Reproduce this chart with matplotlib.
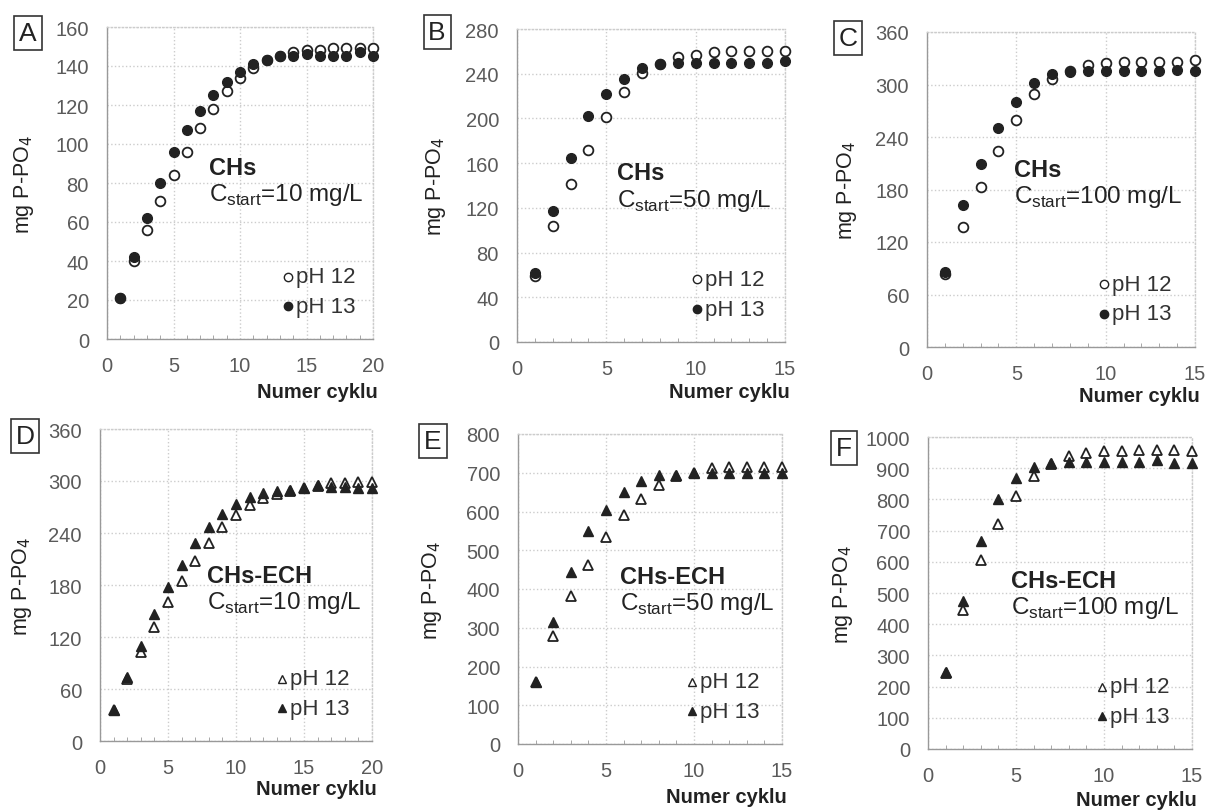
import matplotlib
matplotlib.use("Agg")
import matplotlib.pyplot as plt
import numpy as np

plt.rcParams['font.family'] = ['Liberation Sans', 'DejaVu Sans']

# ---- data ----
cyc20 = list(range(1, 21))
cyc15 = list(range(1, 16))

A_ph12 = [21, 40, 56, 71, 84, 96, 108, 118, 127, 134, 139, 143, 145, 147, 148, 148, 149, 149, 149, 149]
A_ph13 = [21, 42, 62, 80, 96, 107, 117, 125, 132, 137, 141, 143, 145, 145, 146, 145, 145, 145, 147, 145]

B_ph12 = [59, 104, 141, 172, 201, 224, 241, 249, 255, 257, 259, 260, 260, 260, 260]
B_ph13 = [62, 117, 165, 202, 222, 235, 245, 249, 250, 250, 250, 250, 250, 250, 251]

C_ph12 = [84, 137, 183, 224, 260, 289, 306, 316, 322, 325, 326, 326, 326, 326, 328]
C_ph13 = [86, 162, 209, 250, 280, 302, 312, 314, 315, 315, 315, 315, 315, 317, 315]

D_ph12 = [36, 72, 103, 132, 160, 185, 208, 228, 247, 261, 272, 280, 285, 289, 292, 294, 298, 298, 299, 299]
D_ph13 = [36, 74, 110, 147, 178, 203, 228, 247, 262, 274, 281, 286, 288, 290, 292, 295, 293, 293, 292, 292]

E_ph12 = [160, 280, 383, 463, 535, 590, 633, 668, 692, 700, 713, 715, 716, 716, 716]
E_ph13 = [160, 314, 445, 550, 605, 650, 680, 695, 695, 700, 700, 700, 700, 700, 700]

F_ph12 = [245, 445, 605, 722, 810, 875, 915, 940, 950, 955, 955, 958, 958, 958, 955]
F_ph13 = [248, 475, 668, 800, 870, 905, 918, 920, 920, 920, 920, 920, 925, 918, 918]

letters = ['A', 'B', 'C', 'D', 'E', 'F']
materials = ['CHs', 'CHs', 'CHs', 'CHs-ECH', 'CHs-ECH', 'CHs-ECH']
cstart = ['10', '50', '100', '10', '50', '100']
legend_labels = ['pH 12', 'pH 13']

W, H = 1207, 812
fig = plt.figure(figsize=(W / 100, H / 100), dpi=100)

# pixel boxes: left, right, top, bottom
boxes = [(107, 373, 28, 340), (517, 785, 30, 343), (927, 1195, 33, 348),
         (100, 372, 430, 742), (518, 782, 435, 745), (928, 1192, 438, 750)]
xs = [cyc20, cyc15, cyc15, cyc20, cyc15, cyc15]
ys12 = [A_ph12, B_ph12, C_ph12, D_ph12, E_ph12, F_ph12]
ys13 = [A_ph13, B_ph13, C_ph13, D_ph13, E_ph13, F_ph13]
xmax = [20, 15, 15, 20, 15, 15]
ymax = [160, 280, 360, 360, 800, 1000]
ystep = [20, 40, 60, 60, 100, 100]
letter_pos = [(28, 34), (437, 33), (848, 39), (25, 437), (433, 442), (844, 449)]
ann_pos = [(0.385, 0.55, 0.465), (0.372, 0.54, 0.455), (0.325, 0.565, 0.48),
           (0.395, 0.53, 0.445), (0.385, 0.54, 0.455), (0.315, 0.54, 0.455)]
leg_x = [0.68, 0.67, 0.66, 0.67, 0.66, 0.66]
xlab_y = [392, 393, 397, 790, 798, 801]
ylab_off = [83, 81, 80, 78, 86, 85]

tickc = '#5a5a5a'
for i in range(6):
    l, r, t, b = boxes[i]
    ax = fig.add_axes([l / W, 1 - b / H, (r - l) / W, (b - t) / H])
    marker = 'o' if i < 3 else '^'
    ms = 7 if i < 3 else 7.5
    ax.plot(xs[i], ys12[i], linestyle='none', marker=marker, ms=ms, mfc='white',
            mec='#222222', mew=1.3, clip_on=False, zorder=3)
    ax.plot(xs[i], ys13[i], linestyle='none', marker=marker, ms=ms, mfc='#222222',
            mec='#222222', mew=1.0, clip_on=False, zorder=4)
    ax.set_xlim(0, xmax[i])
    ax.set_ylim(0, ymax[i])
    ax.set_xticks([0, 5, 10, 15, 20][: xmax[i] // 5 + 1])
    ax.set_xticks(range(1, xmax[i] + 1), minor=True)
    ax.set_yticks(np.arange(0, ymax[i] + 1, ystep[i]))
    ax.grid(True, which='major', color='#cccccc', linestyle=':', linewidth=1.0)
    ax.tick_params(axis='both', which='major', labelsize=14.5, labelcolor=tickc,
                   length=0)
    ax.tick_params(axis='y', which='major', pad=13)
    ax.tick_params(axis='x', which='major', pad=12)
    ax.tick_params(axis='x', which='minor', direction='in', length=3, color='#999999')
    ax.tick_params(axis='y', which='minor', length=0)
    for s in ['left', 'bottom']:
        ax.spines[s].set_color('#999999')
        ax.spines[s].set_linewidth(1.0)
    for s in ['top', 'right']:
        ax.spines[s].set_color('#cccccc')
        ax.spines[s].set_linestyle(':')
        ax.spines[s].set_linewidth(1.0)
    ax.set_ylabel('mg P-PO$_4$', fontsize=15.5, color='#222222')
    ax.yaxis.set_label_coords(-ylab_off[i] / (r - l), 0.5)
    ax.yaxis.label.set_verticalalignment('center')
    # x label (bold, right aligned)
    fig.text((r + 5) / W, 1 - xlab_y[i] / H, 'Numer cyklu', fontsize=14.5,
             fontweight='bold', color='#222222', ha='right', va='center')
    ax_, y1, y2 = ann_pos[i]
    ax.text(ax_, y1, materials[i], transform=ax.transAxes, fontsize=17,
            fontweight='bold', color='#222222', va='center', ha='left')
    ax.text(ax_, y2, 'C$_{\\mathregular{start}}$=' + cstart[i] + ' mg/L',
            transform=ax.transAxes, fontsize=17.5, color='#222222', va='center', ha='left')
    # legend
    lx = leg_x[i]
    for j, (ly, fc) in enumerate([(0.2, 'white'), (0.105, '#222222')]):
        ax.plot([lx], [ly], transform=ax.transAxes, marker=marker, ms=6, mfc=fc,
                mec='#222222', mew=1.0, linestyle='none', clip_on=False)
        ax.text(lx + 0.03, ly, legend_labels[j], transform=ax.transAxes, fontsize=16,
                color='#333333', va='center', ha='left')
    # panel letter
    px, py = letter_pos[i]
    fig.text(px / W, 1 - py / H, letters[i], fontsize=19, color='#222222',
             ha='center', va='center',
             bbox=dict(boxstyle='square,pad=0.18', fc='white', ec='#333333', lw=1.2))

fig.savefig('out.png', dpi=100)
